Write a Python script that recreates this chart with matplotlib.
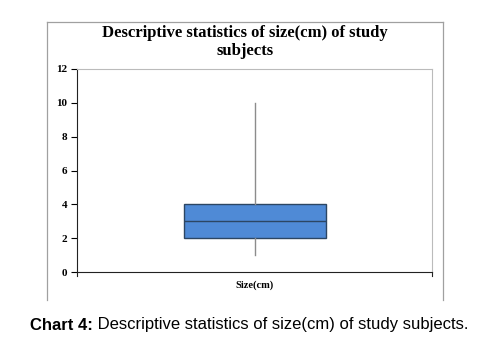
import matplotlib
matplotlib.use("Agg")
import matplotlib.pyplot as plt
from matplotlib.lines import Line2D

# box plot summary
labels = ["Size(cm)"]
whisker_low = [1]
q1 = [2]
median = [3]
q3 = [4]
whisker_high = [10]
yticks = [0, 2, 4, 6, 8, 10, 12]

stats = []
for i in range(len(labels)):
    stats.append({"label": labels[i], "whislo": whisker_low[i], "q1": q1[i],
                  "med": median[i], "q3": q3[i], "whishi": whisker_high[i]})

fig = plt.figure(figsize=(4.93, 3.45), dpi=100)
ax = fig.add_axes([77 / 493, 73 / 345, 355 / 493, 203 / 345])

ax.bxp(stats, positions=[1], widths=0.4, showfliers=False, showcaps=False,
       patch_artist=True,
       boxprops=dict(facecolor="#4f8ad6", edgecolor="#2c4663", linewidth=1.0),
       medianprops=dict(color="#2c4663", linewidth=1.0),
       whiskerprops=dict(color="#8c8c8c", linewidth=1.0))

ax.set_xlim(0.5, 1.5)
ax.set_ylim(0, 12)
ax.set_yticks(yticks)
ax.set_yticklabels([str(v) for v in yticks], family="Liberation Serif",
                   fontweight="bold", fontsize=8)
ax.set_xticks([1])
ax.set_xticklabels(labels, family="Liberation Serif", fontweight="bold", fontsize=7.5)
ax.tick_params(axis="x", length=0, pad=6)
ax.tick_params(axis="y", length=4, width=0.8, pad=3)

ax.spines["left"].set_color("#222222")
ax.spines["bottom"].set_color("#222222")
ax.spines["top"].set_color("#bbbbbb")
ax.spines["right"].set_color("#bbbbbb")
ax.spines["top"].set_linewidth(0.8)
ax.spines["right"].set_linewidth(0.8)

# little end ticks on the x axis
for xp in [0.5, 1.5]:
    ax.plot([xp, xp], [0, -0.25], color="#222222", lw=0.8, clip_on=False)

# outer chart frame (bottom edge cut off)
fx0, fx1 = 47 / 493, 443 / 493
fy0, fy1 = 1 - 300 / 345, 1 - 22 / 345
for xs, ys in [([fx0, fx0], [fy0, fy1]), ([fx0, fx1], [fy1, fy1]), ([fx1, fx1], [fy1, fy0])]:
    fig.add_artist(Line2D(xs, ys, color="#a0a0a0", lw=0.9, transform=fig.transFigure))

fig.text(245 / 493, 1 - 42 / 345, "Descriptive statistics of size(cm) of study\nsubjects",
         ha="center", va="center", family="Liberation Serif", fontweight="bold",
         fontsize=12, linespacing=1.22)

cap_font = ["Liberation Sans Narrow", "Liberation Sans"]
cap = fig.text(30 / 493, 1 - 325 / 345, "Chart 4:", ha="left", va="center",
               family=cap_font, fontweight="bold", fontsize=12)
ax.annotate(" Descriptive statistics of size(cm) of study subjects.", xy=(1, 0),
            xycoords=cap, va="bottom", ha="left",
            family=cap_font, fontsize=12, annotation_clip=False)

fig.savefig("out.png", dpi=100)
